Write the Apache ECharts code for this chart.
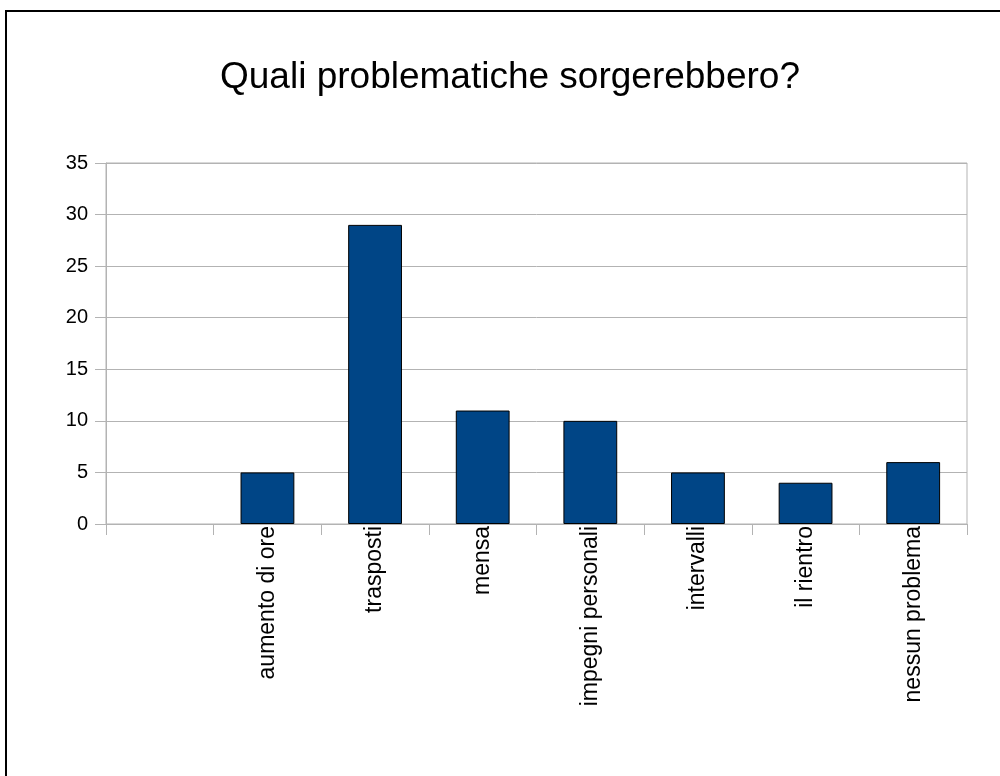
<!DOCTYPE html>
<html>
<head>
<meta charset="utf-8">
<script src="https://cdn.jsdelivr.net/npm/echarts@6/dist/echarts.min.js"></script>
<style>
html,body{margin:0;padding:0;background:#fff;}
#chart{width:1000px;height:776px;}
</style>
</head>
<body>
<div id="chart"></div>
<script>
const titleText = 'Quali problematiche sorgerebbero?';
const categories = ['', 'aumento di ore', 'trasposti', 'mensa', 'impegni personali', 'intervalli', 'il rientro', 'nessun problema'];
const values = [null, 5, 29, 11, 10, 5, 4, 6];
const yMin = 0, yMax = 35, yStep = 5;

const chart = echarts.init(document.getElementById('chart'), null, {renderer: 'canvas'});
const font = 'Liberation Sans, Arial, sans-serif';
chart.setOption({
  animation: false,
  backgroundColor: '#ffffff',
  title: {
    text: titleText,
    left: 505,
    textAlign: 'center',
    top: 54,
    textStyle: {fontFamily: font, fontSize: 37, fontWeight: 'normal', color: '#000'}
  },
  graphic: [{
    type: 'rect',
    shape: {x: 6, y: 11, width: 1010, height: 800},
    style: {fill: 'none', stroke: '#000', lineWidth: 2},
    silent: true
  }],
  grid: {left: 106, right: 33, top: 163, bottom: 252, show: true, borderColor: '#b3b3b3', borderWidth: 1},
  xAxis: {
    type: 'category',
    data: categories,
    boundaryGap: true,
    axisLine: {show: true, lineStyle: {color: '#b3b3b3', width: 1}},
    axisTick: {show: true, length: 11, alignWithLabel: false, lineStyle: {color: '#b3b3b3'}},
    axisLabel: {rotate: 90, margin: 2, interval: 0, fontFamily: font, fontSize: 23, color: '#000'},
    splitLine: {show: false}
  },
  yAxis: {
    type: 'value',
    min: yMin, max: yMax, interval: yStep,
    axisLine: {show: true, lineStyle: {color: '#b3b3b3', width: 1}},
    axisTick: {show: true, length: 11, lineStyle: {color: '#b3b3b3'}},
    axisLabel: {margin: 18, fontFamily: font, fontSize: 20, color: '#000'},
    splitLine: {show: true, lineStyle: {color: '#b3b3b3', width: 1}}
  },
  series: [{
    type: 'bar',
    data: values,
    barWidth: '50%',
    itemStyle: {color: '#004586', borderColor: '#000', borderWidth: 1}
  }]
});
</script>
</body>
</html>
